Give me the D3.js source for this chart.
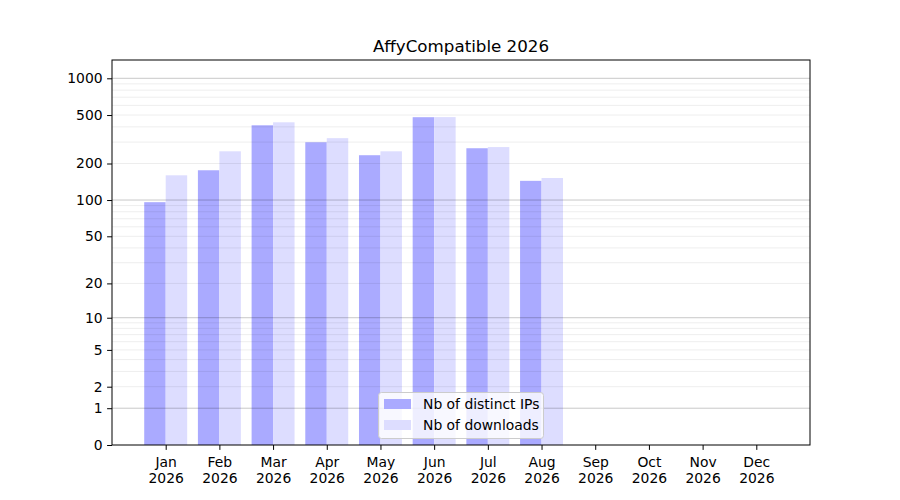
<!DOCTYPE html>
<html>
<head>
<meta charset="utf-8">
<script src="https://cdn.jsdelivr.net/npm/d3@7/dist/d3.min.js"></script>
<style>
  body { margin: 0; background: #fff; }
  svg { display: block; font-family: "DejaVu Sans", sans-serif; }
</style>
</head>
<body>
<svg id="chart" width="900" height="500"></svg>
<script>
const title = "AffyCompatible 2026";
const months = ["Jan","Feb","Mar","Apr","May","Jun","Jul","Aug","Sep","Oct","Nov","Dec"];
const year = "2026";
const distinctIPs = [96, 176, 412, 299, 234, 480, 267, 144, null, null, null, null];
const downloads = [160, 252, 436, 323, 252, 481, 273, 152, null, null, null, null];
const yTickValues = [0, 1, 2, 5, 10, 20, 50, 100, 200, 500, 1000];
const majorGrid = [1, 10, 100, 1000];
const minorGrid = [2,3,4,5,6,7,8,9,20,30,40,50,60,70,80,90,200,300,400,500,600,700,800,900];
const seriesNames = ["Nb of distinct IPs", "Nb of downloads"];
const seriesColors = ["#aaaaff", "#ddddff"];

(function () {
const svg = d3.select("#chart");
const pL = 112, pR = 810, pT = 60, pB = 445;
const fs = 13.9;

const x = d3.scaleLinear().domain([0, 13]).range([pL, pR]);
// log10(v+1) scale
const yLog = d3.scaleLinear().domain([0, Math.log10(1001)]).range([pB, pT + 18.3]);
const y = v => yLog(Math.log10(v + 1));

const barW = (x(1) - x(0)) * 0.4;

// bars
const g = svg.append("g");
[distinctIPs, downloads].forEach((series, si) => {
  g.selectAll(null)
    .data(series.map((v, i) => ({v, i})).filter(d => d.v != null))
    .enter().append("rect")
    .attr("x", d => si === 0 ? x(d.i + 1) - barW : x(d.i + 1))
    .attr("width", barW)
    .attr("y", d => y(d.v))
    .attr("height", d => pB - y(d.v))
    .attr("fill", seriesColors[si]);
});

// grid on top
svg.append("g").selectAll("line").data(minorGrid).enter().append("line")
  .attr("x1", pL).attr("x2", pR)
  .attr("y1", d => y(d)).attr("y2", d => y(d))
  .attr("stroke", "#000").attr("stroke-opacity", 0.07).attr("stroke-width", 1);
svg.append("g").selectAll("line").data(majorGrid).enter().append("line")
  .attr("x1", pL).attr("x2", pR)
  .attr("y1", d => y(d)).attr("y2", d => y(d))
  .attr("stroke", "#000").attr("stroke-opacity", 0.22).attr("stroke-width", 1);

// frame
svg.append("rect").attr("x", pL).attr("y", pT)
  .attr("width", pR - pL).attr("height", pB - pT)
  .attr("fill", "none").attr("stroke", "#000").attr("stroke-width", 1);

// y axis
const yAxis = d3.axisLeft(yLog)
  .tickValues(yTickValues.map(v => Math.log10(v + 1)))
  .tickFormat((d, i) => String(yTickValues[i]))
  .tickSize(4.9).tickPadding(4.5);
const ya = svg.append("g").attr("transform", `translate(${pL},0)`).call(yAxis);
ya.attr("font-size", fs).attr("font-family", "DejaVu Sans");
ya.select(".domain").remove();
ya.selectAll("text").attr("font-size", fs).attr("fill", "#000");
ya.selectAll("line").attr("stroke", "#000");

// x axis
const xAxis = d3.axisBottom(x)
  .tickValues(d3.range(1, 13))
  .tickFormat("")
  .tickSize(4.9);
const xa = svg.append("g").attr("transform", `translate(0,${pB})`).call(xAxis);
xa.attr("font-size", fs).attr("font-family", "DejaVu Sans");
xa.select(".domain").remove();
xa.selectAll("line").attr("stroke", "#000");
xa.selectAll(".tick").each(function(d) {
  const t = d3.select(this).append("text")
    .attr("text-anchor", "middle").attr("font-size", fs)
    .attr("fill", "#000");
  t.append("tspan").attr("x", 0).attr("y", 21.5).text(months[d - 1]);
  t.append("tspan").attr("x", 0).attr("y", 37.5).text(year);
});

// title
svg.append("text").attr("x", (pL + pR) / 2).attr("y", 52)
  .attr("text-anchor", "middle").attr("font-size", 16.7).attr("fill", "#000")
  .text(title);

// legend
const lg = svg.append("g");
lg.append("rect").attr("x", 378.5).attr("y", 392.5).attr("width", 165).attr("height", 46)
  .attr("rx", 3).attr("fill", "#fff").attr("fill-opacity", 0.8)
  .attr("stroke", "#cccccc").attr("stroke-width", 1);
seriesNames.forEach((name, i) => {
  lg.append("rect").attr("x", 384).attr("y", 399 + i * 21).attr("width", 27).attr("height", 10)
    .attr("fill", seriesColors[i]);
  lg.append("text").attr("x", 423).attr("y", 409 + i * 21)
    .attr("font-size", fs).attr("fill", "#000").text(name);
});
})();
</script>
</body>
</html>
